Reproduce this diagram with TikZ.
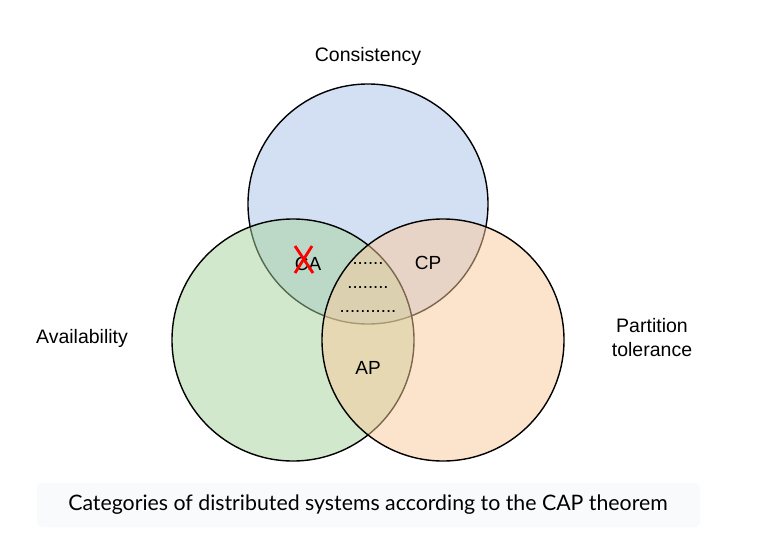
\documentclass[tikz,border=0pt]{standalone}
\usepackage{fontspec}
\setmainfont{Liberation Sans}
\newfontfamily\capfont{Lato}
\definecolor{cblue}{HTML}{A9C3EB}
\definecolor{cgreen}{HTML}{A7D39B}
\definecolor{corange}{HTML}{FBC999}
\definecolor{capbg}{HTML}{F9FAFB}
\begin{document}
\begin{tikzpicture}[x=1pt,y=-1pt,
  setc/.style={circle,draw=black,line width=1.4pt,fill opacity=0.5,inner sep=0pt},
  lbl/.style={font=\fontsize{19.5}{24}\selectfont,inner sep=0pt,align=center},
  reg/.style={font=\fontsize{19}{22}\selectfont,inner sep=0pt},
  dots/.style={font=\fontsize{18.5}{22}\selectfont,inner sep=0pt}]
\useasboundingbox (0,0) rectangle (771,549);
\fill[white] (0,0) rectangle (771,549);
% caption background
\node[fill=capbg,rounded corners=6pt,minimum width=663pt,minimum height=44pt,inner sep=0pt] (capbox) at (368.5,505) {};
\node[font=\capfont\fontsize{21.3}{25}\selectfont,inner sep=0pt] (cap) at (368,505) {Categories of distributed systems according to the CAP theorem};
% circles
\node[setc,fill=cblue,minimum size=240pt] (C) at (368,204) {};
\node[setc,fill=cgreen,minimum size=242pt] (A) at (293,340) {};
\node[setc,fill=corange,minimum size=242pt] (P) at (443,340) {};
% labels
\node[lbl] (lc) at (368,56) {Consistency};
\node[lbl] (la) at (82,338) {Availability};
\node[lbl] (lp) at (652,338) {Partition\\tolerance};
% regions
\node[reg] (ca) at (308,264) {CA};
\node[reg] (cp) at (428,263) {CP};
\node[reg] (ap) at (368,368) {AP};
\node[dots] (d1) at (368,264) {......};
\node[dots] (d2) at (368,288) {........};
\node[dots] (d3) at (368,312) {...........};
% red cross
\draw[red,line width=2.8pt] (295,246) -- (313,273);
\draw[red,line width=2.8pt] (312,246) -- (295,273);
\end{tikzpicture}
\end{document}
